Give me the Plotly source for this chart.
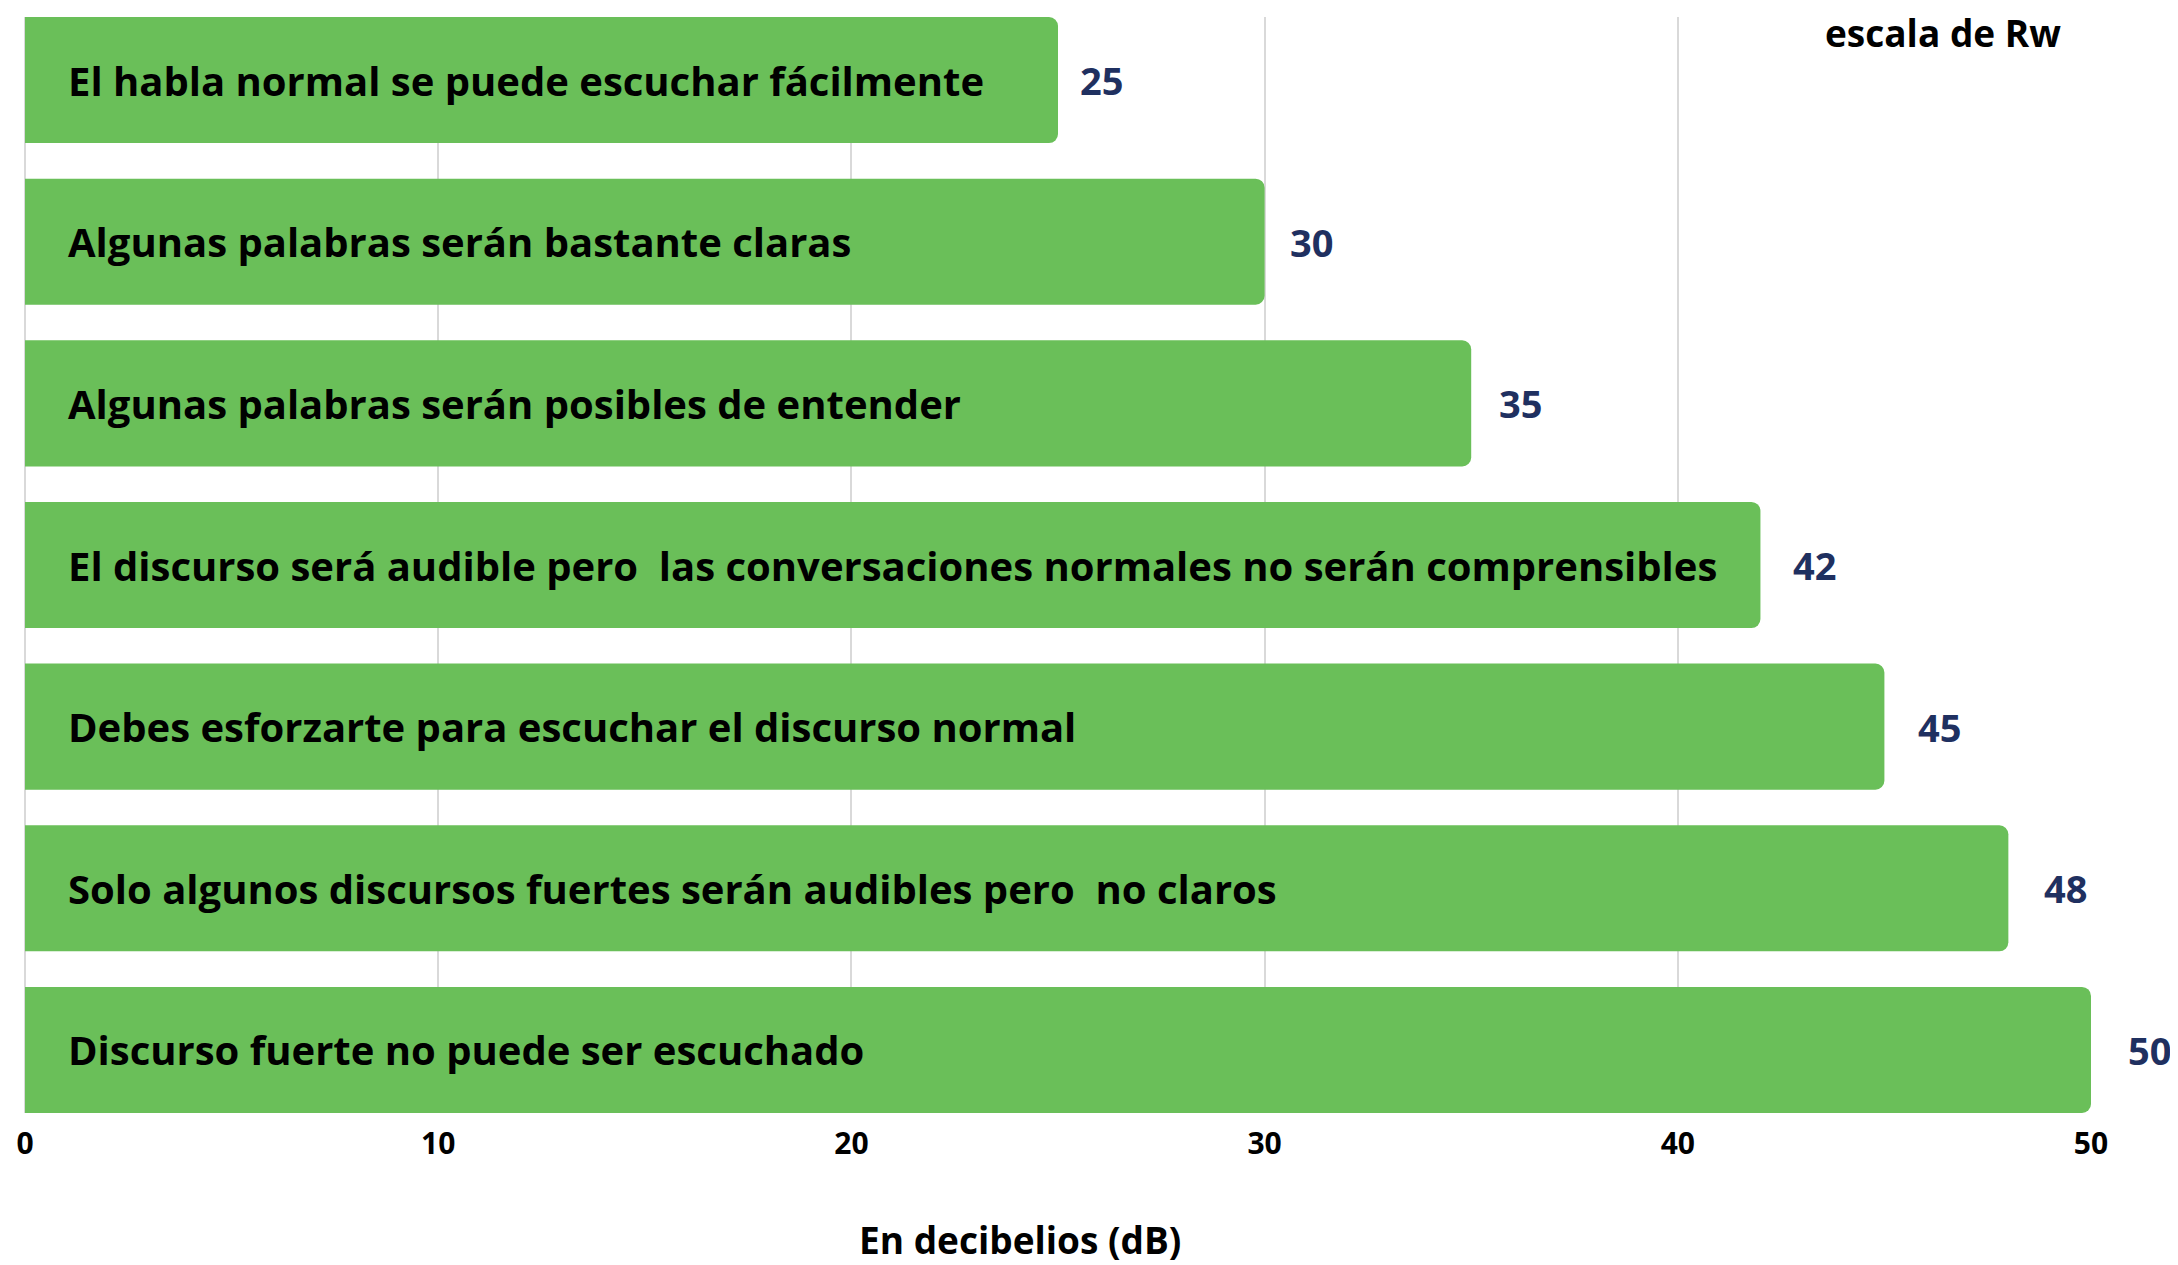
import plotly.graph_objects as go

categories = [
    "El habla normal se puede escuchar fácilmente",
    "Algunas palabras serán bastante claras",
    "Algunas palabras serán posibles de entender",
    "El discurso será audible pero  las conversaciones normales no serán comprensibles",
    "Debes esforzarte para escuchar el discurso normal",
    "Solo algunos discursos fuertes serán audibles pero  no claros",
    "Discurso fuerte no puede ser escuchado",
]
values = [25, 30, 35, 42, 45, 48, 50]
tick_vals = [0, 10, 20, 30, 40, 50]

FONT = "Open Sans"
BAR_COLOR = "#6abf59"
VAL_COLOR = "#1f3060"

# page body has an 8px margin; size the figure to fill the rest of the window
OFF = 8
W, H = 2178 - OFF, 1265 - OFF
L, R, T, B = 25 - OFF, 87, 17 - OFF, 152
pw = W - L - R
ph = H - T - B

fig = go.Figure()
fig.add_trace(go.Bar(
    x=values, y=list(range(len(categories))), orientation="h",
    marker=dict(color=BAR_COLOR, line=dict(width=0)),
    hoverinfo="skip",
))

annotations = []
for i, (c, v) in enumerate(zip(categories, values)):
    annotations.append(dict(
        x=0, y=i, xref="x", yref="y", text="<b>%s</b>" % c, showarrow=False,
        xanchor="left", yanchor="middle", xshift=41,
        font=dict(family=FONT, size=40, color="#000000"),
    ))
    annotations.append(dict(
        x=v, y=i, xref="x", yref="y", text="<b>%d</b>" % v, showarrow=False,
        xanchor="left", yanchor="middle", xshift=20 + 0.6 * (v - 25),
        font=dict(family=FONT, size=38, color=VAL_COLOR),
    ))
annotations.append(dict(
    x=(2063 - OFF - L) / pw, y=(H - (33 - OFF) - B) / ph, xref="paper", yref="paper",
    text="<b>escala de Rw</b>",
    showarrow=False, xanchor="right", yanchor="middle",
    font=dict(family=FONT, size=37, color="#000000"),
))
annotations.append(dict(
    x=(1020 - OFF - L) / pw, y=-(1239 - OFF - (H - B)) / ph, xref="paper", yref="paper",
    text="<b>En decibelios (dB)</b>",
    showarrow=False, xanchor="center", yanchor="middle",
    font=dict(family=FONT, size=37, color="#000000"),
))

fig.update_layout(
    width=W, height=H,
    margin=dict(l=L, r=R, t=T, b=B, pad=0),
    plot_bgcolor="white", paper_bgcolor="white",
    bargap=0.22, barcornerradius=9,
    showlegend=False,
    annotations=annotations,
    xaxis=dict(
        range=[0, 50], tickvals=tick_vals, ticktext=["<b>%d</b>" % t for t in tick_vals],
        showgrid=True, gridcolor="#d9d9d9", gridwidth=1.5,
        zeroline=True, zerolinecolor="#d9d9d9", zerolinewidth=1.5,
        showline=False, ticks="", ticklabelstandoff=10,
        tickfont=dict(family=FONT, size=30, color="#000000"),
    ),
    yaxis=dict(
        range=[6.39, -0.39], showticklabels=False, showgrid=False,
        zeroline=False, showline=False, ticks="",
    ),
)

fig.write_html("out.html")
